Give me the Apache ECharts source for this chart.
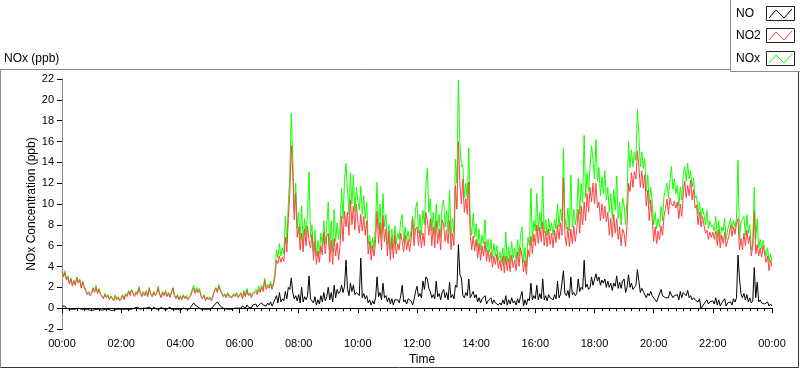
<!DOCTYPE html>
<html>
<head>
<meta charset="utf-8">
<script src="https://cdn.jsdelivr.net/npm/echarts@6/dist/echarts.min.js"></script>
<style>
html,body{margin:0;padding:0;background:#fff;}
#chart{width:800px;height:369px;}
</style>
</head>
<body>
<div id="chart"></div>
<script>
// 3-minute samples, 00:00 .. 24:00 (481 points); one row per hour
const NO2 = [
 3.5, 3.0, 3.4, 2.7, 3.0, 2.3, 2.8, 2.1, 2.6, 2.2, 2.9, 2.4, 2.7, 1.9, 2.5, 2.0, 1.7, 1.3, 1.5, 1.2,
 1.4, 1.9, 1.5, 2.0, 1.4, 1.8, 1.3, 1.1, 0.9, 1.3, 1.0, 1.2, 0.8, 1.1, 0.9, 0.7, 1.2, 0.8, 1.0, 0.7,
 0.9, 1.2, 0.8, 1.3, 1.1, 1.6, 1.2, 1.7, 1.4, 1.1, 1.5, 1.3, 1.9, 1.4, 1.1, 1.5, 1.2, 1.6, 1.1, 1.9,
 1.3, 1.1, 1.5, 1.2, 1.4, 1.9, 1.3, 1.0, 1.5, 1.2, 1.6, 1.1, 1.4, 1.0, 1.5, 1.9, 1.2, 0.9, 1.2, 0.8,
 1.1, 0.8, 1.2, 0.9, 1.1, 0.8, 1.0, 1.2, 1.6, 1.9, 1.4, 1.8, 1.5, 1.7, 1.1, 0.9, 1.2, 0.7, 1.0, 0.8,
 1.0, 0.7, 1.1, 1.6, 1.9, 1.5, 2.1, 1.7, 1.4, 1.1, 1.3, 1.0, 1.4, 1.1, 1.2, 1.0, 1.3, 1.1, 1.4, 1.0,
 1.0, 1.4, 0.9, 1.5, 1.1, 1.7, 1.2, 1.4, 1.0, 1.3, 1.2, 1.6, 1.3, 1.8, 1.5, 2.0, 1.6, 2.7, 1.8, 2.1,
 1.9, 2.3, 1.8, 2.2, 3.1, 4.6, 4.3, 5.0, 4.4, 4.9, 4.5, 6.8, 5.4, 8.6, 11.0, 15.6, 13.1, 8.5, 11.0, 6.8,
 7.8, 5.6, 7.2, 5.4, 7.6, 6.0, 7.9, 6.5, 5.8, 7.1, 4.6, 6.4, 4.2, 5.5, 4.4, 6.0, 5.1, 7.3, 5.2, 6.9,
 7.2, 4.4, 6.5, 4.2, 6.7, 5.0, 6.3, 4.6, 6.0, 8.8, 6.4, 9.3, 7.8, 9.2, 7.0, 10.4, 8.0, 9.8, 7.5, 10.0,
 8.2, 7.2, 9.0, 7.4, 8.8, 7.0, 8.4, 5.2, 6.4, 4.6, 6.0, 5.0, 6.6, 9.3, 6.2, 8.2, 5.6, 8.9, 6.4, 7.6,
 5.0, 7.4, 4.6, 6.8, 4.8, 7.0, 5.2, 6.2, 5.6, 7.2, 6.4, 5.4, 7.0, 5.6, 6.6, 5.4, 6.5, 8.6, 6.0, 7.6,
 7.8, 6.0, 7.5, 5.8, 7.2, 6.0, 9.2, 8.4, 7.0, 8.6, 6.0, 7.8, 5.8, 8.4, 6.2, 7.6, 5.6, 8.5, 8.0, 6.4,
 7.5, 6.2, 8.4, 5.6, 7.2, 6.0, 11.8, 9.5, 16.0, 12.0, 10.0, 12.4, 9.2, 10.5, 9.0, 12.1, 7.0, 5.6, 6.9, 5.5,
 6.6, 4.8, 6.2, 4.6, 6.0, 5.0, 6.4, 4.5, 5.6, 4.4, 5.4, 3.9, 5.0, 4.2, 5.2, 3.8, 4.6, 3.6, 5.0, 3.4,
 5.0, 3.6, 4.8, 3.5, 5.1, 3.9, 4.6, 3.6, 5.4, 4.0, 5.8, 5.0, 3.5, 4.6, 3.2, 5.6, 4.9, 6.9, 5.2, 7.1,
 6.0, 8.0, 6.2, 7.8, 6.4, 8.3, 6.0, 7.4, 5.9, 7.6, 6.1, 7.2, 5.8, 7.5, 6.3, 8.0, 6.6, 8.2, 7.0, 12.5,
 7.0, 6.0, 7.8, 5.9, 7.6, 6.2, 7.9, 6.4, 7.5, 9.5, 7.2, 9.8, 8.0, 10.2, 8.4, 11.0, 9.2, 11.6, 10.2, 12.0,
 10.0, 12.0, 9.6, 10.2, 8.4, 10.0, 8.6, 9.8, 8.3, 9.2, 7.0, 8.6, 6.8, 9.0, 7.2, 8.6, 6.6, 7.8, 6.0, 7.6,
 7.2, 5.9, 8.0, 12.0, 11.2, 13.0, 11.6, 13.1, 12.4, 15.1, 13.6, 11.6, 13.2, 11.5, 12.8, 9.8, 11.3, 8.4, 10.4, 8.6,
 6.4, 7.8, 6.2, 7.4, 6.6, 7.9, 7.0, 8.8, 9.6, 10.5, 9.0, 10.6, 10.0, 9.8, 10.3, 9.6, 10.2, 8.6, 10.0, 8.8,
 11.0, 12.2, 10.6, 11.8, 10.8, 12.3, 10.4, 11.4, 9.6, 9.9, 8.0, 9.2, 7.8, 8.8, 8.0, 7.2, 7.5, 6.6, 7.3, 6.8,
 7.3, 6.6, 7.4, 6.0, 7.5, 5.8, 7.0, 6.2, 7.3, 5.9, 6.5, 7.0, 8.0, 6.9, 7.8, 7.1, 8.2, 8.6, 5.6, 6.7,
 5.6, 7.2, 6.0, 7.5, 6.2, 6.9, 5.0, 6.0, 9.3, 5.2, 6.1, 5.0, 5.8, 4.9, 6.0, 5.2, 4.4, 5.0, 3.6, 4.6,
 4.0
];
const NOX = [
 3.7, 3.1, 3.6, 2.8, 3.1, 2.4, 2.9, 2.3, 2.7, 2.3, 3.0, 2.5, 2.8, 2.1, 2.6, 2.1, 1.8, 1.4, 1.6, 1.3,
 1.5, 2.0, 1.6, 2.2, 1.5, 1.9, 1.4, 1.2, 1.0, 1.4, 1.1, 1.3, 0.9, 1.2, 1.0, 0.8, 1.3, 0.9, 1.1, 0.8,
 1.0, 1.3, 0.9, 1.4, 1.2, 1.7, 1.4, 1.8, 1.5, 1.3, 1.6, 1.4, 2.1, 1.5, 1.2, 1.6, 1.3, 1.7, 1.2, 2.0,
 1.4, 1.2, 1.6, 1.3, 1.5, 2.1, 1.4, 1.1, 1.6, 1.3, 1.7, 1.2, 1.5, 1.1, 1.6, 2.0, 1.3, 1.0, 1.3, 0.9,
 1.2, 0.9, 1.3, 1.0, 1.2, 0.9, 1.1, 1.3, 1.8, 2.2, 1.5, 2.0, 1.6, 1.9, 1.2, 1.0, 1.3, 0.8, 1.1, 0.9,
 1.1, 0.8, 1.2, 1.7, 2.0, 1.6, 2.3, 1.8, 1.5, 1.2, 1.4, 1.1, 1.5, 1.2, 1.3, 1.1, 1.4, 1.2, 1.5, 1.1,
 1.1, 1.5, 1.0, 1.7, 1.2, 1.9, 1.3, 1.5, 1.2, 1.5, 1.4, 1.8, 1.5, 2.1, 1.7, 2.2, 1.8, 2.9, 2.0, 2.3,
 2.1, 2.6, 2.0, 2.5, 3.5, 5.6, 4.8, 6.2, 5.0, 5.8, 5.2, 8.8, 6.2, 10.0, 12.8, 18.7, 14.5, 9.4, 12.0, 7.7,
 9.2, 6.6, 9.8, 6.3, 8.6, 7.0, 9.1, 13.1, 6.8, 8.0, 5.4, 7.5, 5.0, 6.5, 5.2, 7.2, 6.0, 8.4, 6.2, 8.0,
 10.2, 5.6, 8.4, 5.4, 9.5, 6.4, 8.2, 6.6, 7.8, 11.5, 8.6, 12.2, 13.9, 11.4, 9.0, 13.0, 10.0, 12.8, 9.2, 11.6,
 10.4, 9.4, 11.7, 9.0, 10.8, 8.6, 10.2, 6.2, 7.0, 5.5, 6.8, 5.8, 8.2, 12.1, 7.6, 10.0, 6.8, 11.0, 7.8, 9.0,
 6.0, 8.0, 5.6, 7.6, 5.7, 7.9, 6.2, 7.2, 6.6, 8.4, 9.0, 6.3, 7.8, 6.6, 7.4, 6.4, 7.5, 8.8, 7.0, 9.5,
 10.2, 7.2, 9.0, 7.0, 9.4, 8.0, 11.8, 13.4, 9.2, 10.5, 7.4, 9.2, 7.0, 10.0, 7.6, 9.0, 6.8, 10.0, 10.4, 7.8,
 9.4, 7.4, 11.3, 6.8, 8.6, 7.2, 14.3, 12.0, 21.9, 15.8, 13.6, 13.8, 10.6, 12.0, 10.4, 15.4, 8.4, 7.0, 9.1, 6.8,
 8.1, 5.8, 7.6, 5.6, 7.0, 6.2, 8.5, 5.4, 6.6, 5.4, 6.6, 4.8, 6.2, 5.0, 6.0, 4.6, 5.4, 4.4, 5.8, 4.2,
 7.3, 4.4, 5.9, 4.3, 6.4, 4.8, 5.8, 4.5, 6.6, 5.0, 7.0, 7.8, 4.4, 5.8, 4.0, 6.8, 6.0, 11.5, 6.4, 8.4,
 7.4, 11.0, 7.4, 9.2, 7.6, 12.7, 7.2, 8.5, 7.0, 8.6, 7.4, 8.2, 7.0, 8.5, 7.6, 10.0, 7.8, 9.5, 8.4, 15.4,
 8.6, 7.6, 9.6, 7.4, 12.8, 7.8, 9.5, 8.0, 9.0, 12.5, 9.0, 12.0, 10.2, 16.6, 10.6, 13.0, 11.2, 13.6, 15.6, 14.2,
 12.4, 16.2, 12.2, 13.5, 10.8, 12.6, 11.0, 13.2, 10.4, 11.6, 9.2, 11.0, 8.6, 11.4, 9.4, 12.7, 8.6, 10.2, 8.0, 10.6,
 9.8, 8.0, 10.5, 16.0, 13.5, 15.2, 13.6, 15.0, 14.2, 19.1, 16.5, 13.6, 15.0, 13.4, 14.4, 11.2, 12.8, 10.0, 11.6, 10.2,
 8.0, 9.2, 7.6, 8.6, 7.8, 9.8, 8.4, 10.8, 11.4, 12.0, 10.6, 12.2, 13.6, 11.4, 12.4, 11.0, 11.8, 9.8, 11.6, 10.4,
 12.8, 13.6, 12.2, 13.9, 12.4, 13.2, 11.6, 12.5, 10.6, 10.8, 9.0, 10.2, 8.6, 9.6, 9.0, 8.0, 9.4, 7.6, 8.4, 7.8,
 8.0, 7.4, 8.8, 6.8, 8.4, 6.6, 7.8, 7.4, 8.6, 6.6, 7.5, 7.6, 8.6, 7.6, 8.4, 7.8, 8.6, 14.2, 6.6, 8.3,
 8.3, 8.8, 7.0, 9.0, 7.2, 8.0, 5.6, 6.2, 11.6, 6.6, 8.6, 5.8, 6.6, 5.7, 6.5, 5.8, 5.0, 5.8, 4.4, 5.2,
 4.5
];
const NO = [
 0.2, 0.1, 0.2, 0.0, 0.1, -0.1, 0.0, -0.1, 0.0, -0.1, -0.1, 0.0, -0.1, -0.1, -0.2, -0.1, 0.0, -0.1, -0.1, -0.2,
 -0.1, -0.2, -0.1, -0.1, -0.2, -0.1, -0.1, -0.2, -0.1, -0.1, -0.2, -0.1, -0.1, -0.2, -0.1, -0.2, -0.1, -0.1, -0.2, -0.1,
 -0.1, -0.1, 0.0, -0.1, -0.2, -0.1, 0.0, -0.1, -0.1, 0.0, -0.1, 0.1, 0.0, -0.1, -0.1, 0.0, -0.1, 0.0, -0.1, 0.1,
 0.0, -0.1, 0.1, 0.0, -0.1, 0.0, -0.1, 0.1, 0.0, -0.1, 0.0, -0.1, 0.0, 0.1, -0.1, 0.0, -0.1, -0.2, -0.1, -0.1,
 -0.2, -0.1, 0.0, -0.1, -0.1, 0.0, -0.1, 0.1, 0.3, 0.5, 0.3, 0.2, 0.1, 0.0, -0.1, -0.2, -0.1, -0.2, -0.1, -0.1,
 -0.1, 0.0, 0.1, 0.3, 0.4, 0.6, 0.4, 0.2, 0.1, 0.0, -0.1, -0.1, 0.0, -0.1, 0.0, -0.1, 0.0, 0.0, 0.1, 0.0,
 0.1, 0.0, 0.2, 0.1, 0.0, 0.3, 0.1, 0.2, 0.0, 0.3, 0.2, 0.4, 0.1, 0.3, 0.2, 0.5, 0.3, 0.4, 0.2, 0.5,
 0.3, 0.6, 0.2, 0.5, 0.4, 1.2, 0.5, 1.5, 0.6, 0.9, 0.7, 1.6, 0.9, 2.0, 1.8, 2.9, 1.5, 0.9, 1.2, 0.7,
 1.3, 0.5, 2.0, 0.6, 1.1, 0.8, 1.2, 3.1, 0.9, 1.0, 0.5, 1.1, 0.3, 0.8, 0.4, 1.2, 0.6, 1.5, 0.7, 1.1,
 2.0, 0.8, 1.5, 0.6, 2.2, 1.0, 1.8, 1.4, 1.6, 2.2, 1.5, 2.1, 4.6, 1.9, 1.2, 2.4, 1.6, 2.2, 1.3, 1.5,
 1.6, 1.2, 4.8, 1.0, 1.4, 0.9, 1.2, 0.5, 0.8, 0.3, 0.7, 0.4, 1.0, 3.0, 1.1, 1.5, 0.8, 2.4, 1.0, 1.2,
 0.6, 1.0, 0.4, 0.9, 0.3, 0.8, 0.7, 0.8, 0.5, 1.2, 2.2, 0.6, 0.8, 0.4, 0.9, 0.8, 0.7, 0.3, 0.8, 1.6,
 2.1, 1.1, 1.4, 1.0, 2.6, 1.8, 3.0, 2.8, 1.9, 1.6, 1.0, 1.3, 0.9, 2.6, 1.1, 1.4, 0.8, 1.5, 1.8, 1.0,
 1.5, 0.8, 2.5, 1.0, 1.3, 0.9, 2.2, 2.0, 6.1, 3.2, 2.9, 1.2, 1.0, 1.5, 1.2, 2.8, 1.0, 0.9, 1.6, 1.0,
 1.3, 0.6, 1.0, 0.5, 0.9, 0.8, 1.2, 0.4, 0.7, 0.6, 1.0, 0.4, 0.8, 0.5, 0.6, 0.3, 0.5, 0.3, 0.8, 0.4,
 1.2, 0.3, 0.8, 0.4, 1.0, 0.5, 0.7, 0.3, 0.9, 0.5, 1.1, 1.6, 0.2, 0.8, 0.3, 0.9, 0.7, 2.4, 0.8, 1.2,
 0.9, 2.2, 0.8, 1.4, 0.9, 2.8, 0.8, 1.2, 0.7, 1.3, 1.0, 1.1, 0.8, 1.3, 0.9, 2.6, 1.0, 1.3, 1.2, 3.6,
 1.4, 1.2, 1.7, 1.0, 3.0, 1.3, 1.5, 1.2, 1.4, 2.8, 1.6, 2.0, 1.8, 4.6, 2.0, 2.3, 1.8, 2.0, 3.0, 2.2,
 2.3, 3.3, 2.6, 3.0, 2.2, 2.7, 2.4, 2.8, 2.0, 2.6, 2.0, 2.4, 1.7, 2.4, 2.1, 3.1, 1.9, 2.5, 1.9, 2.6,
 2.8, 1.5, 2.0, 3.2, 2.0, 2.4, 1.8, 2.0, 2.2, 3.7, 2.6, 1.5, 1.9, 1.6, 1.6, 1.0, 1.4, 1.2, 1.6, 1.2,
 1.1, 0.8, 0.6, 1.0, 0.9, 1.8, 1.2, 1.3, 1.0, 0.9, 1.0, 1.6, 1.5, 1.0, 1.2, 1.1, 1.3, 0.8, 1.6, 1.0,
 1.5, 1.4, 1.2, 1.7, 1.0, 1.2, 0.8, 1.0, 0.8, 0.7, 0.6, 0.9, -0.1, 0.2, 0.4, 0.3, 0.8, 0.4, 0.6, 0.5,
 0.7, 0.4, 1.0, 0.3, 0.8, 0.2, 0.5, 0.6, 0.9, 0.2, 0.5, 0.4, 0.6, 0.3, 0.9, 0.6, 1.0, 5.1, 2.9, 1.4,
 1.0, 1.4, 0.8, 1.3, 0.6, 1.0, 0.5, 0.7, 3.9, 1.0, 2.5, 0.6, 0.8, 0.5, 0.6, 0.4, 0.3, 0.6, 0.2, 0.4,
 0.2
];
const SAMPLE_MINUTES = 3;
const seriesNames = ['NO', 'NO2', 'NOx'];
const seriesColors = ['#000000', '#ff4242', '#14ff00'];
const yTicks = {min: -2, max: 22, interval: 2};
const xTicks = {min: 0, max: 1440, interval: 120};

const minutes = NO.map((_, i) => i * SAMPLE_MINUTES);
const pairs = arr => arr.map((v, i) => [minutes[i], v]);
const fmtTime = m => {
  const h = Math.floor(m / 60) % 24, mm = m % 60;
  return String(h).padStart(2, '0') + ':' + String(mm).padStart(2, '0');
};

const FONT = 'Liberation Sans';
const chart = echarts.init(document.getElementById('chart'), null, {renderer: 'canvas'});

function legendItem(i, cy) {
  return [
    {type: 'text', z: 20, x: 736, y: cy, style: {text: seriesNames[i], fill: '#000', font: '12px ' + FONT, textVerticalAlign: 'middle', verticalAlign: 'middle'}},
    {type: 'rect', z: 20, shape: {x: 766.5, y: cy - 7.5, width: 28, height: 14}, style: {fill: '#fff', stroke: '#222', lineWidth: 1}},
    {type: 'polyline', z: 21, shape: {points: [[769, cy + 4], [776, cy - 4], [784, cy + 4], [792, cy - 5]]}, style: {stroke: seriesColors[i], lineWidth: 1, fill: null}}
  ];
}

chart.setOption({
  animation: false,
  backgroundColor: '#ffffff',
  grid: {left: 62, right: 28, top: 79, bottom: 40, containLabel: false, outerBoundsMode: 'none'},
  xAxis: [{
    type: 'value', min: xTicks.min, max: xTicks.max, interval: xTicks.interval,
    offset: 2,
    name: 'Time', nameLocation: 'middle', nameGap: 23, nameMoveOverlap: false,
    nameTextStyle: {color: '#000', fontFamily: FONT, fontSize: 12, padding: [0, 0, 0, 10]},
    axisLine: {show: false},
    axisTick: {show: true, length: 5, lineStyle: {color: '#000'}},
    minorTick: {show: true, splitNumber: 8, length: 3, lineStyle: {color: '#000'}},
    splitLine: {show: false},
    axisLabel: {formatter: v => fmtTime(v), color: '#000', fontFamily: FONT, fontSize: 11, margin: 7}
  }, {
    type: 'value', position: 'top', min: xTicks.min, max: xTicks.max,
    axisLine: {show: true, lineStyle: {color: '#000', width: 1}},
    axisTick: {show: false}, axisLabel: {show: false}, splitLine: {show: false}
  }],
  yAxis: [{
    type: 'value', min: yTicks.min, max: yTicks.max, interval: yTicks.interval,
    name: 'NOx Concentration (ppb)', nameLocation: 'middle', nameGap: 24, nameRotate: 90, nameMoveOverlap: false,
    nameTextStyle: {color: '#000', fontFamily: FONT, fontSize: 12},
    axisLine: {show: true, lineStyle: {color: '#000', width: 1}},
    axisTick: {show: true, length: 5, lineStyle: {color: '#000'}},
    splitLine: {show: false},
    axisLabel: {color: '#000', fontFamily: FONT, fontSize: 11, margin: 8}
  }, {
    type: 'value', position: 'right', min: yTicks.min, max: yTicks.max,
    axisLine: {show: true, lineStyle: {color: '#8a8a8a', width: 1}},
    axisTick: {show: false}, axisLabel: {show: false}, splitLine: {show: false}
  }],
  series: [
    {name: 'NOx', type: 'line', data: pairs(NOX), showSymbol: false, lineStyle: {width: 1, color: seriesColors[2]}, itemStyle: {color: seriesColors[2]}, z: 2},
    {name: 'NO2', type: 'line', data: pairs(NO2), showSymbol: false, lineStyle: {width: 1, color: seriesColors[1]}, itemStyle: {color: seriesColors[1]}, z: 3},
    {name: 'NO', type: 'line', data: pairs(NO), showSymbol: false, lineStyle: {width: 1, color: seriesColors[0]}, itemStyle: {color: seriesColors[0]}, z: 4}
  ],
  graphic: [
    {type: 'polyline', z: -10, shape: {points: [[0.5, 367.5], [0.5, 69.5], [730, 69.5]]}, style: {stroke: '#8c8c8c', lineWidth: 1, fill: null}},
    {type: 'polyline', z: -10, shape: {points: [[0.5, 367.5], [798.5, 367.5], [798.5, 72]]}, style: {stroke: '#3a3a3a', lineWidth: 1, fill: null}},
    {type: 'text', x: 4, y: 59, style: {text: 'NOx (ppb)', fill: '#000', font: '12px ' + FONT, textVerticalAlign: 'middle', verticalAlign: 'middle'}},
    {type: 'rect', z: 15, shape: {x: 730, y: 0, width: 70, height: 72}, style: {fill: '#fff', stroke: null}},
    {type: 'polyline', z: 16, shape: {points: [[730.5, 0], [730.5, 71.5], [800, 71.5]]}, style: {stroke: '#8c8c8c', lineWidth: 1, fill: null}},
    ...legendItem(0, 14),
    ...legendItem(1, 36),
    ...legendItem(2, 59)
  ]
});
</script>
</body>
</html>
